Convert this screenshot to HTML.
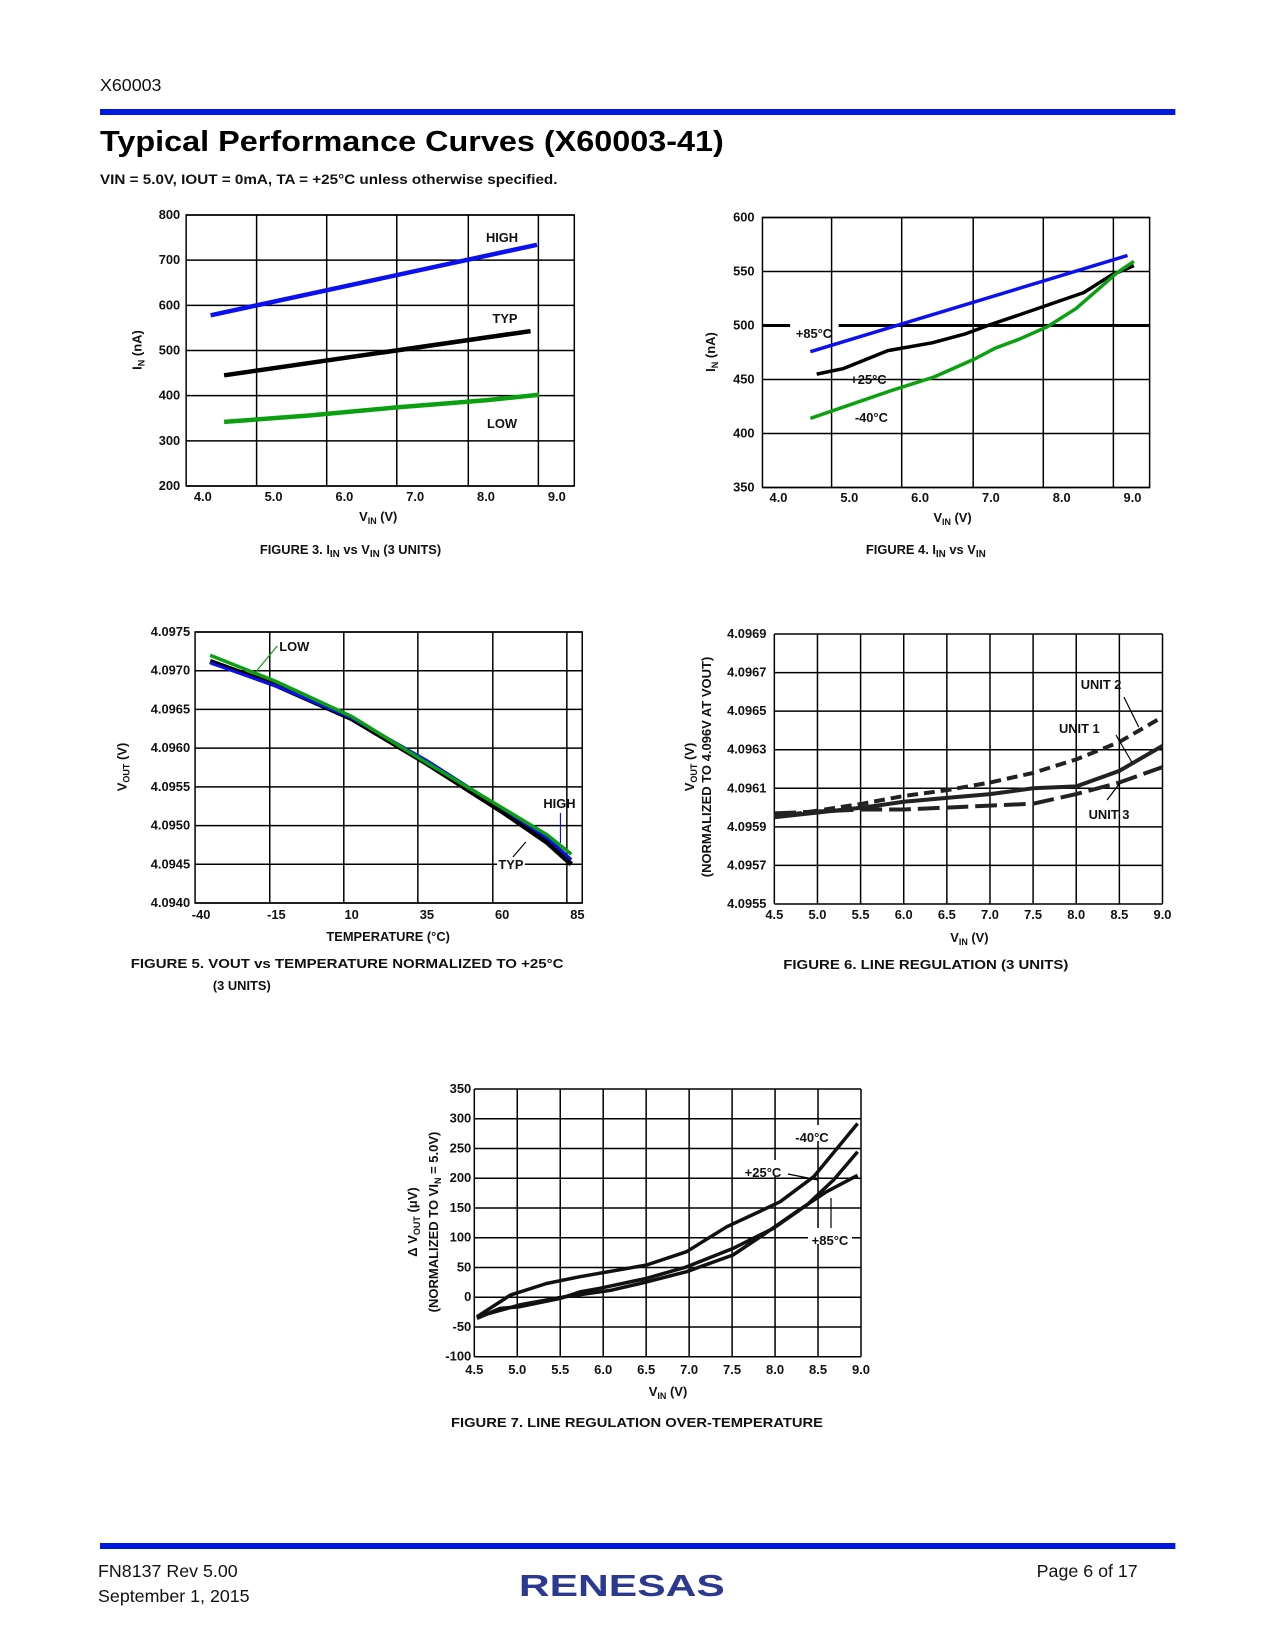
<!DOCTYPE html>
<html><head><meta charset="utf-8"><style>
html,body{margin:0;padding:0;background:#fff;}
svg{display:block;font-family:"Liberation Sans",sans-serif;}
.t{font-family:"Liberation Sans Narrow","Liberation Sans",sans-serif;font-weight:bold;font-size:13px;fill:#111;}
</style></head><body>
<svg id="page" width="1275" height="1650" viewBox="0 0 1275 1650">
<g transform="scale(0.9902 1)">
<text x="101" y="91" font-size="18" fill="#111">X60003</text>
<rect x="101" y="109" width="1086" height="6" fill="#0019e0"/>
<text x="101" y="151" font-size="29" font-weight="900" textLength="630" lengthAdjust="spacingAndGlyphs" fill="#000">Typical Performance Curves (X60003-41)</text>
<text x="101" y="184" font-size="14" font-weight="bold" textLength="462" lengthAdjust="spacingAndGlyphs" fill="#111">VIN = 5.0V, IOUT = 0mA, TA = +25°C unless otherwise specified.</text>
<g id="charts"></g>
<rect x="101" y="1543" width="1086" height="6" fill="#0019e0"/>
<text x="99" y="1577" font-size="18" fill="#111">FN8137  Rev 5.00</text>
<text x="99" y="1602" font-size="18" fill="#111">September 1, 2015</text>
<text x="1149" y="1577" font-size="18" fill="#111" text-anchor="end">Page 6 of 17</text>
<text x="524" y="1596" font-size="31" font-weight="bold" fill="#2b3990" textLength="208" lengthAdjust="spacingAndGlyphs">RENESAS</text>
</g>
<g id="charts7"></g>
</svg>
<script>
// ---- Figure 3 data ----
const f3x_ticks=["4.0","5.0","6.0","7.0","8.0","9.0"];
const f3y_ticks=[200,300,400,500,600,700,800];
const f3_vx=[4.76,5.75,6.74,7.75,8.74];
const f3_high_x=[4.11,8.72];
const f3_high_y=[578,734];
const f3_typ_x=[4.3,8.63];
const f3_typ_y=[445,543];
const f3_low_x=[4.3,5.5,6.74,8.0,8.75];
const f3_low_y=[342,356,374,390,402];
// ---- Figure 4 data ----
const f4x_ticks=["4.0","5.0","6.0","7.0","8.0","9.0"];
const f4y_ticks=[350,400,450,500,550,600];
const f4_vx=[4.75,5.74,6.75,7.74,8.73];
const f4_p85_x=[4.45,8.93];
const f4_p85_y=[475.7,564.8];
const f4_p25_x=[4.54,4.91,5.54,6.17,6.63,6.98,7.39,8.31,8.71,9.02];
const f4_p25_y=[455,460,476.7,484,492,500.6,509.6,530.5,547,555.5];
const f4_m40_x=[4.45,5.05,5.56,6.2,6.77,7.06,7.4,7.8,8.2,8.55,8.78,9.02];
const f4_m40_y=[414,427.5,439,452.4,469,479,487.3,499,515.6,535.5,548.8,559.4];
// ---- Figure 5 data ----
const f5x_ticks=[-40,-15,10,35,60,85];
const f5y_ticks=["4.0940","4.0945","4.0950","4.0955","4.0960","4.0965","4.0970","4.0975"];
const f5_vx=[-17.2,7.4,32,56.9,81.5];
const f5_t=[-37,-15,10,35,60,75,83];
const f5_typ=[4.09712,4.09681,4.09638,4.09580,4.09518,4.09478,4.09450];
const f5_high=[4.09710,4.09680,4.09639,4.09584,4.09522,4.09484,4.09456];
const f5_low=[4.09720,4.09686,4.09641,4.09581,4.09523,4.09488,4.09463];
// ---- Figure 6 data ----
const f6x_ticks=["4.5","5.0","5.5","6.0","6.5","7.0","7.5","8.0","8.5","9.0"];
const f6y_ticks=["4.0955","4.0957","4.0959","4.0961","4.0963","4.0965","4.0967","4.0969"];
const f6_v=[4.5,5.52,6.0,6.5,7.0,7.5,8.0,8.5,9.0];
const f6_u1=[4.09595,4.09600,4.09603,4.09605,4.09607,4.09610,4.09611,4.09619,4.09632];
const f6_u2=[4.09595,4.09602,4.09606,4.09609,4.09613,4.09618,4.09625,4.09634,4.09647];
const f6_u3=[4.09597,4.09599,4.09599,4.09600,4.09601,4.09602,4.09607,4.09613,4.09621];
// ---- Figure 7 data ----
const f7x_ticks=["4.5","5.0","5.5","6.0","6.5","7.0","7.5","8.0","8.5","9.0"];
const f7y_ticks=[-100,-50,0,50,100,150,200,250,300,350];
const f7_m40_x=[4.53,4.92,5.34,5.73,6.5,6.97,7.44,7.82,8.06,8.45,8.96];
const f7_m40_y=[-33,3.6,23,34.4,54,76.5,118.5,144,160.5,202.6,292];
const f7_p25_x=[4.53,4.8,5.03,5.5,5.73,5.96,6.5,6.97,7.51,7.98,8.37,8.68,8.96];
const f7_p25_y=[-35.6,-18.8,-16,-2,9,15,31.6,51,82,115.7,155,197,244.6];
const f7_p85_x=[4.53,5.03,5.5,6.1,6.43,6.97,7.51,7.86,8.25,8.6,8.96];
const f7_p85_y=[-33,-13,-0.5,12,23,42.8,70.9,104.5,143.7,177.4,205];

const NS="http://www.w3.org/2000/svg";
const root=document.getElementById('charts');
const root7=document.getElementById('charts7');
function mk(tag,attrs,parent){const e=document.createElementNS(NS,tag);for(const k in attrs)e.setAttribute(k,attrs[k]);(parent||root).appendChild(e);return e;}
function txt(x,y,s,parent,extra){const e=mk('text',Object.assign({x:x,y:y,class:'t'},extra||{}),parent);e.textContent=s;return e;}
function pathD(xs,ys,X,Y){return xs.map((v,i)=>(i?'L':'M')+X(v).toFixed(1)+','+Y(ys[i]).toFixed(1)).join(' ');}

// ===== Figure 3 =====
(function(){
 const g=mk('g',{});
 
 
 const L=188,R=580,T=215,B=486;
 const X=v=>204.8+(v-4)*71.5, Y=v=>486-(v-200)*0.4517;
 f3y_ticks.forEach(v=>{const l=mk('line',{x1:L,x2:R,y1:Y(v),y2:Y(v),stroke:'#000','stroke-width':1.5},g);
  
  const t=txt(L-6,Y(v)+4,String(v),g,{'text-anchor':'end'});});
 f3_vx.forEach(v=>{const l=mk('line',{x1:X(v),x2:X(v),y1:T,y2:B,stroke:'#000','stroke-width':1.5},g);
  });
 const fr=mk('rect',{x:L,y:T,width:R-L,height:B-T,fill:'none',stroke:'#000','stroke-width':1.5},g);
 
 f3x_ticks.forEach(s=>{const t=txt(X(+s),501,s,g,{'text-anchor':'middle'});});
 [[f3_high_x,f3_high_y,'#0a10f0','series-high'],[f3_typ_x,f3_typ_y,'#000','series-typ'],[f3_low_x,f3_low_y,'#0aa010','series-low']].forEach(a=>{
  const p=mk('path',{d:pathD(a[0],a[1],X,Y),fill:'none',stroke:a[2],'stroke-width':4.5},g);
  });
 let t=txt(507,242,'HIGH',g,{'text-anchor':'middle'});
 t=txt(510,323,'TYP',g,{'text-anchor':'middle'});
 t=txt(507,428,'LOW',g,{'text-anchor':'middle'});
 t=txt(382,521,'V',g,{'text-anchor':'middle'});t.innerHTML='V<tspan font-size="9" dy="3">IN</tspan><tspan dy="-3"> (V)</tspan>';
 t=txt(0,0,'',g,{transform:'translate(143,350) rotate(-90)','text-anchor':'middle'});t.innerHTML='I<tspan font-size="9" dy="3">N</tspan><tspan dy="-3"> (nA)</tspan>';
 t=txt(354,554,'',g,{'text-anchor':'middle','font-size':14});t.innerHTML='FIGURE 3.  I<tspan font-size="10" dy="3">IN</tspan><tspan dy="-3"> vs V</tspan><tspan font-size="10" dy="3">IN</tspan><tspan dy="-3"> (3 UNITS)</tspan>';
})();

// ===== Figure 4 =====
(function(){
 const g=mk('g',{});
 
 
 const L=770,R=1161,T=217.5,B=487.5;
 const X=v=>786.2+(v-4)*71.5, Y=v=>487.5-(v-350)*1.08;
 f4y_ticks.forEach(v=>{
  if(v===500){const l=mk('line',{x1:L,x2:798,y1:Y(v),y2:Y(v),stroke:'#000','stroke-width':3},g);
   const l2=mk('line',{x1:847,x2:R,y1:Y(v),y2:Y(v),stroke:'#000','stroke-width':3},g);}
  else{const l=mk('line',{x1:L,x2:R,y1:Y(v),y2:Y(v),stroke:'#000','stroke-width':1.5},g);}
  const t=txt(L-8,Y(v)+4,String(v),g,{'text-anchor':'end'});});
 f4_vx.forEach(v=>{const l=mk('line',{x1:X(v),x2:X(v),y1:T,y2:B,stroke:'#000','stroke-width':1.5},g);});
 const fr=mk('rect',{x:L,y:T,width:R-L,height:B-T,fill:'none',stroke:'#000','stroke-width':1.5},g);
 
 f4x_ticks.forEach(s=>{const t=txt(X(+s),502,s,g,{'text-anchor':'middle'});});
 [[f4_p85_x,f4_p85_y,'#0a10f0','series-85c'],[f4_p25_x,f4_p25_y,'#000','series-25c'],[f4_m40_x,f4_m40_y,'#0aa010','series-minus40c']].forEach(a=>{
  const p=mk('path',{d:pathD(a[0],a[1],X,Y),fill:'none',stroke:a[2],'stroke-width':3.5,'stroke-linejoin':'round'},g);
  });
 let t=txt(822,338,'+85°C',g,{'text-anchor':'middle'});
 t=txt(877,384,'+25°C',g,{'text-anchor':'middle'});
 t=txt(880,422,'-40°C',g,{'text-anchor':'middle'});
 t=txt(962,522,'',g,{'text-anchor':'middle'});t.innerHTML='V<tspan font-size="9" dy="3">IN</tspan><tspan dy="-3"> (V)</tspan>';
 t=txt(0,0,'',g,{transform:'translate(722,352) rotate(-90)','text-anchor':'middle'});t.innerHTML='I<tspan font-size="9" dy="3">N</tspan><tspan dy="-3"> (nA)</tspan>';
 t=txt(935,554,'',g,{'text-anchor':'middle','font-size':14});t.innerHTML='FIGURE 4.  I<tspan font-size="10" dy="3">IN</tspan><tspan dy="-3"> vs V</tspan><tspan font-size="10" dy="3">IN</tspan>';
})();

// ===== Figure 5 =====
(function(){
 const g=mk('g',{});
 
 
 const L=197,R=588,T=632,B=903;
 const X=v=>203.1+(v+40)*3.04, Y=v=>903-(v-4.094)*(271/0.0035);
 f5y_ticks.forEach(s=>{const v=+s;const l=mk('line',{x1:L,x2:R,y1:Y(v),y2:Y(v),stroke:'#000','stroke-width':1.5},g);
  const t=txt(L-5,Y(v)+4,s,g,{'text-anchor':'end'});});
 f5_vx.forEach(v=>{const l=mk('line',{x1:X(v),x2:X(v),y1:T,y2:B,stroke:'#000','stroke-width':1.5},g);});
 const fr=mk('rect',{x:L,y:T,width:R-L,height:B-T,fill:'none',stroke:'#000','stroke-width':1.5},g);
 
 f5x_ticks.forEach(v=>{const t=txt(X(v),919,String(v),g,{'text-anchor':'middle'});});
 [[f5_typ,'#000','series-typ',5],[f5_high,'#0a10f0','series-high',3],[f5_low,'#0aa010','series-low',3.5]].forEach(a=>{
  const p=mk('path',{d:pathD(f5_t,a[0],X,Y),fill:'none',stroke:a[1],'stroke-width':a[3]},g);
  });
 let l=mk('line',{x1:280,y1:646,x2:259,y2:671,stroke:'#0aa010','stroke-width':1.2},g);
 l=mk('line',{x1:566,y1:813,x2:566,y2:843,stroke:'#0a10f0','stroke-width':1.2},g);
 l=mk('line',{x1:518,y1:857,x2:531,y2:842,stroke:'#000','stroke-width':1.2},g);
 let t=txt(282,651,'LOW',g);
 t=txt(565,808,'HIGH',g,{'text-anchor':'middle'});
 mk('rect',{x:502,y:857,width:28,height:14,fill:'#fff'},g);
 t=txt(516,869,'TYP',g,{'text-anchor':'middle'});
 t=txt(392,941,'TEMPERATURE (°C)',g,{'text-anchor':'middle'});
 t=txt(0,0,'',g,{transform:'translate(128,767) rotate(-90)','text-anchor':'middle'});t.innerHTML='V<tspan font-size="9" dy="3">OUT</tspan><tspan dy="-3"> (V)</tspan>';
 t=txt(132,968,'FIGURE 5.  VOUT vs TEMPERATURE NORMALIZED TO +25°C',g,{'font-size':14,textLength:437,lengthAdjust:'spacingAndGlyphs'});
 t=txt(215,990,'(3 UNITS)',g,{'font-size':14});
})();

// ===== Figure 6 =====
(function(){
 const g=mk('g',{});
 
 
 const L=782,R=1174,T=634,B=904;
 const X=v=>782+(v-4.5)*(392/4.5), Y=v=>904-(v-4.0955)*(270/0.0014);
 f6y_ticks.forEach(s=>{const v=+s;const l=mk('line',{x1:L,x2:R,y1:Y(v),y2:Y(v),stroke:'#000','stroke-width':1.5},g);
  const t=txt(L-8,Y(v)+4,s,g,{'text-anchor':'end'});});
 f6x_ticks.forEach(s=>{const v=+s;const l=mk('line',{x1:X(v),x2:X(v),y1:T,y2:B,stroke:'#000','stroke-width':1.5},g);
  const t=txt(X(v),919,s,g,{'text-anchor':'middle'});});
 [[f6_u1,'none','series-unit-1'],[f6_u2,'11 6','series-unit-2'],[f6_u3,'22 7','series-unit-3']].forEach(a=>{
  const p=mk('path',{d:pathD(f6_v,a[0],X,Y),fill:'none',stroke:'#222','stroke-width':4,'stroke-dasharray':a[1]},g);
  });
 let l=mk('line',{x1:1135,y1:697,x2:1150,y2:727,stroke:'#000','stroke-width':1.2},g);
 l=mk('line',{x1:1127,y1:735,x2:1143,y2:762,stroke:'#000','stroke-width':1.2},g);
 l=mk('line',{x1:1118,y1:800,x2:1131,y2:783,stroke:'#000','stroke-width':1.2},g);
 let t=txt(1112,689,'UNIT 2',g,{'text-anchor':'middle'});
 t=txt(1090,733,'UNIT 1',g,{'text-anchor':'middle'});
 t=txt(1120,819,'UNIT 3',g,{'text-anchor':'middle'});
 t=txt(979,942,'',g,{'text-anchor':'middle'});t.innerHTML='V<tspan font-size="9" dy="3">IN</tspan><tspan dy="-3"> (V)</tspan>';
 t=txt(0,0,'',g,{transform:'translate(701,767) rotate(-90)','text-anchor':'middle'});t.innerHTML='V<tspan font-size="9" dy="3">OUT</tspan><tspan dy="-3"> (V)</tspan>';
 t=txt(0,0,'(NORMALIZED TO 4.096V AT VOUT)',g,{transform:'translate(718,767) rotate(-90)','text-anchor':'middle'});
 t=txt(935,969,'FIGURE 6.  LINE REGULATION (3 UNITS)',g,{'text-anchor':'middle','font-size':14,textLength:288,lengthAdjust:'spacingAndGlyphs'});
})();

// ===== Figure 7 =====
(function(){
 const g=mk('g',{},root7);
 
 
 const L=474.3,R=861,T=1089,B=1356.7;
 const X=v=>474.3+(v-4.5)*(386.7/4.5), Y=v=>1356.7-(v+100)*(267.7/450);
 f7y_ticks.forEach(v=>{const l=mk('line',{x1:L,x2:R,y1:Y(v),y2:Y(v),stroke:'#000','stroke-width':1.5},g);
  const t=txt(L-3,Y(v)+4,String(v),g,{'text-anchor':'end'});});
 f7x_ticks.forEach(s=>{const v=+s;const l=mk('line',{x1:X(v),x2:X(v),y1:T,y2:B,stroke:'#000','stroke-width':1.5},g);
  const t=txt(X(v),1374,s,g,{'text-anchor':'middle'});});
 [[f7_m40_x,f7_m40_y,'series-minus40c'],[f7_p25_x,f7_p25_y,'series-25c'],[f7_p85_x,f7_p85_y,'series-85c']].forEach(a=>{
  const p=mk('path',{d:pathD(a[0],a[1],X,Y),fill:'none',stroke:'#111','stroke-width':3.5,'stroke-linejoin':'round'},g);
  });
 mk('rect',{x:790,y:1125,width:42,height:16,fill:'#fff'},g);
 mk('rect',{x:741,y:1160,width:44,height:16,fill:'#fff'},g);
 mk('rect',{x:808,y:1228,width:44,height:16,fill:'#fff'},g);
 let l=mk('line',{x1:788,y1:1174,x2:818,y2:1180,stroke:'#000','stroke-width':1.2},g);
 l=mk('line',{x1:831,y1:1228,x2:831,y2:1198,stroke:'#000','stroke-width':1.2},g);
 let t=txt(812,1142,'-40°C',g,{'text-anchor':'middle'});
 t=txt(763,1177,'+25°C',g,{'text-anchor':'middle'});
 t=txt(830,1245,'+85°C',g,{'text-anchor':'middle'});
 t=txt(668,1396,'',g,{'text-anchor':'middle'});t.innerHTML='V<tspan font-size="9" dy="3">IN</tspan><tspan dy="-3"> (V)</tspan>';
 t=txt(0,0,'',g,{transform:'translate(417,1222) rotate(-90)','text-anchor':'middle'});t.innerHTML='Δ V<tspan font-size="9" dy="3">OUT</tspan><tspan dy="-3"> (μV)</tspan>';
 t=txt(0,0,'',g,{transform:'translate(438,1222) rotate(-90)','text-anchor':'middle'});t.innerHTML='(NORMALIZED TO VI<tspan font-size="9" dy="3">N</tspan><tspan dy="-3"> = 5.0V)</tspan>';
 t=txt(637,1427,'FIGURE 7.  LINE REGULATION OVER-TEMPERATURE',g,{'text-anchor':'middle','font-size':14,textLength:372,lengthAdjust:'spacingAndGlyphs'});
})();
</script>
</body></html>
